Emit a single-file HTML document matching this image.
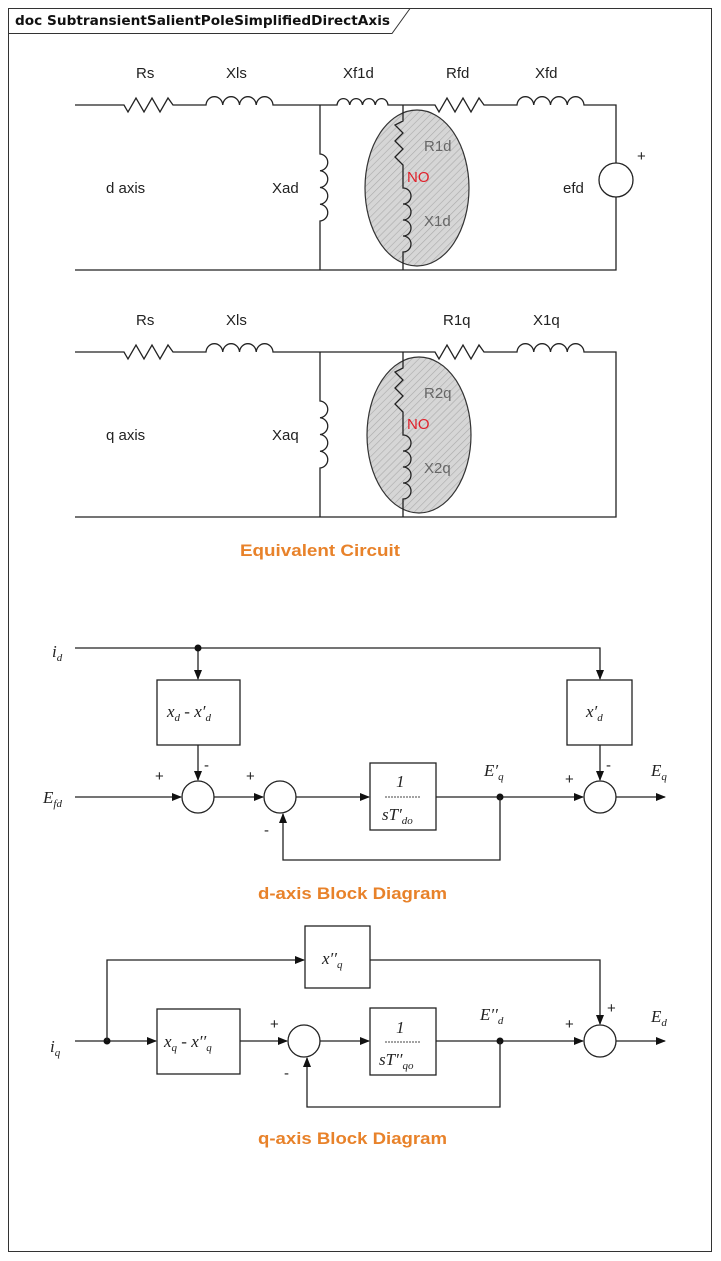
<!DOCTYPE html>
<html><head><meta charset="utf-8"><style>
html,body{margin:0;padding:0;background:#fff;}
svg{display:block;}
.w{fill:none;stroke:#222;stroke-width:1.3}
.l{font-family:"Liberation Sans",Arial,sans-serif;font-size:15px;fill:#222}
.g{font-family:"Liberation Sans",Arial,sans-serif;font-size:15px;fill:#666}
.m{font-family:"Liberation Serif",serif;font-style:italic;font-size:17px;fill:#222}
.s{font-size:11px}
.o{font-family:"Liberation Sans",Arial,sans-serif;font-weight:bold;font-size:17px;fill:#E8822A}
.b{fill:#fff;stroke:#222;stroke-width:1.3}
</style></head><body>
<svg width="721" height="1261" viewBox="0 0 721 1261" xmlns="http://www.w3.org/2000/svg">
<defs>
<pattern id="h" width="5" height="5" patternUnits="userSpaceOnUse" patternTransform="rotate(45)">
<rect width="5" height="5" fill="#d6d6d6"/><line x1="0" y1="0" x2="0" y2="5" stroke="#aaa" stroke-width="1.2"/></pattern>
<marker id="a" markerWidth="10" markerHeight="8" refX="9" refY="4" orient="auto" markerUnits="userSpaceOnUse"><path d="M0,0 L10,4 L0,8 z" fill="#111"/></marker>
</defs>
<rect x="8.5" y="8.5" width="703" height="1243" fill="none" stroke="#333" stroke-width="1"/>
<path d="M8.5 33.5 H392 L410 8.5" fill="none" stroke="#333" stroke-width="1"/>
<text x="15" y="25" font-family="DejaVu Sans,Liberation Sans,sans-serif" font-weight="bold" font-size="13" fill="#111" textLength="375" lengthAdjust="spacingAndGlyphs">doc SubtransientSalientPoleSimplifiedDirectAxis</text>

<!-- d axis circuit -->
<g>
<ellipse cx="417" cy="188" rx="52" ry="78" fill="url(#h)" stroke="#333" stroke-width="1.2"/>
<path class="w" d="M75 105 H124 l4 7 l8 -14 l8 14 l8 -14 l8 14 l8 -14 l5 7 H206 a8.4 9 0 0 1 16.75 0 a8.4 9 0 0 1 16.75 0 a8.4 9 0 0 1 16.75 0 a8.4 9 0 0 1 16.75 0 H337 a6.4 7 0 0 1 12.75 0 a6.4 7 0 0 1 12.75 0 a6.4 7 0 0 1 12.75 0 a6.4 7 0 0 1 12.75 0 H435 l4 7 l8 -14 l8 14 l8 -14 l8 14 l8 -14 l5 7 H517 a8.4 9 0 0 1 16.75 0 a8.4 9 0 0 1 16.75 0 a8.4 9 0 0 1 16.75 0 a8.4 9 0 0 1 16.75 0 H616 V163 M616 197 V270 H75"/>
<path class="w" d="M320 105 V154 a8.4 8.4 0 0 1 0 16.75 a8.4 8.4 0 0 1 0 16.75 a8.4 8.4 0 0 1 0 16.75 a8.4 8.4 0 0 1 0 16.75 V270"/>
<path class="w" d="M403 105 V121 l-8 4 l8 8 l-8 8 l8 8 l-8 8 l8 8 l0 6 V188 a8 8 0 0 1 0 16 a8 8 0 0 1 0 16 a8 8 0 0 1 0 16 a8 8 0 0 1 0 16 V270"/>
<circle cx="616" cy="180" r="17" fill="#fff" stroke="#222" stroke-width="1.3"/>
<text class="l" x="637" y="161">+</text>
<text class="l" x="136" y="78">Rs</text><text class="l" x="226" y="78">Xls</text>
<text class="l" x="343" y="78">Xf1d</text><text class="l" x="446" y="78">Rfd</text><text class="l" x="535" y="78">Xfd</text>
<text class="l" x="106" y="193">d axis</text><text class="l" x="272" y="193">Xad</text><text class="l" x="563" y="193">efd</text>
<text class="g" x="424" y="151">R1d</text><text class="g" x="424" y="226">X1d</text>
<text class="l" x="407" y="182" style="fill:#e0202a">NO</text>
</g>

<!-- q axis circuit -->
<g transform="translate(0,247)">
<ellipse cx="419" cy="188" rx="52" ry="78" fill="url(#h)" stroke="#333" stroke-width="1.2"/>
<path class="w" d="M75 105 H124 l4 7 l8 -14 l8 14 l8 -14 l8 14 l8 -14 l5 7 H206 a8.4 9 0 0 1 16.75 0 a8.4 9 0 0 1 16.75 0 a8.4 9 0 0 1 16.75 0 a8.4 9 0 0 1 16.75 0 H435 l4 7 l8 -14 l8 14 l8 -14 l8 14 l8 -14 l5 7 H517 a8.4 9 0 0 1 16.75 0 a8.4 9 0 0 1 16.75 0 a8.4 9 0 0 1 16.75 0 a8.4 9 0 0 1 16.75 0 H616 V270 H75"/>
<path class="w" d="M320 105 V154 a8.4 8.4 0 0 1 0 16.75 a8.4 8.4 0 0 1 0 16.75 a8.4 8.4 0 0 1 0 16.75 a8.4 8.4 0 0 1 0 16.75 V270"/>
<path class="w" d="M403 105 V121 l-8 4 l8 8 l-8 8 l8 8 l-8 8 l8 8 l0 6 V188 a8 8 0 0 1 0 16 a8 8 0 0 1 0 16 a8 8 0 0 1 0 16 a8 8 0 0 1 0 16 V270"/>
<text class="l" x="136" y="78">Rs</text><text class="l" x="226" y="78">Xls</text>
<text class="l" x="443" y="78">R1q</text><text class="l" x="533" y="78">X1q</text>
<text class="l" x="106" y="193">q axis</text><text class="l" x="272" y="193">Xaq</text>
<text class="g" x="424" y="151">R2q</text><text class="g" x="424" y="226">X2q</text>
<text class="l" x="407" y="182" style="fill:#e0202a">NO</text>
</g>
<text class="o" x="240" y="556" textLength="160" lengthAdjust="spacingAndGlyphs">Equivalent Circuit</text>

<!-- d-axis block diagram -->
<g>
<text class="m" x="52" y="657">i<tspan class="s" dy="4">d</tspan></text>
<path class="w" d="M75 648 H600 V679" marker-end="url(#a)"/>
<path class="w" d="M198 648 V679" marker-end="url(#a)"/>
<circle cx="198" cy="648" r="3.5" fill="#111"/>
<rect class="b" x="157" y="680" width="83" height="65"/>
<text class="m" x="167" y="717">x<tspan class="s" dy="4">d</tspan><tspan dy="-4"> - x′</tspan><tspan class="s" dy="4">d</tspan></text>
<path class="w" d="M198 745 V780" marker-end="url(#a)"/>
<rect class="b" x="567" y="680" width="65" height="65"/>
<text class="m" x="586" y="717">x′<tspan class="s" dy="4">d</tspan></text>
<path class="w" d="M600 745 V780" marker-end="url(#a)"/>
<text class="m" x="43" y="803">E<tspan class="s" dy="4">fd</tspan></text>
<path class="w" d="M75 797 H181" marker-end="url(#a)"/>
<circle class="b" cx="198" cy="797" r="16"/>
<path class="w" d="M214 797 H263" marker-end="url(#a)"/>
<circle class="b" cx="280" cy="797" r="16"/>
<path class="w" d="M296 797 H369" marker-end="url(#a)"/>
<rect class="b" x="370" y="763" width="66" height="67"/>
<text class="m" x="396" y="787">1</text>
<line x1="385" y1="797" x2="421" y2="797" stroke="#444" stroke-width="1" stroke-dasharray="2,1"/>
<text class="m" x="382" y="820">sT′<tspan class="s" dy="4">do</tspan></text>
<path class="w" d="M436 797 H583" marker-end="url(#a)"/>
<circle cx="500" cy="797" r="3.5" fill="#111"/>
<path class="w" d="M500 797 V860 H283 V814" marker-end="url(#a)"/>
<circle class="b" cx="600" cy="797" r="16"/>
<path class="w" d="M616 797 H665" marker-end="url(#a)"/>
<text class="m" x="484" y="776">E′<tspan class="s" dy="4">q</tspan></text>
<text class="m" x="651" y="776">E<tspan class="s" dy="4">q</tspan></text>
<text class="l" x="155" y="781">+</text><text class="l" x="204" y="770">-</text>
<text class="l" x="246" y="781">+</text><text class="l" x="264" y="835">-</text>
<text class="l" x="565" y="784">+</text><text class="l" x="606" y="770">-</text>
</g>
<text class="o" x="258" y="899" textLength="189" lengthAdjust="spacingAndGlyphs">d-axis Block Diagram</text>

<!-- q-axis block diagram -->
<g>
<text class="m" x="50" y="1052">i<tspan class="s" dy="4">q</tspan></text>
<path class="w" d="M75 1041 H156" marker-end="url(#a)"/>
<circle cx="107" cy="1041" r="3.5" fill="#111"/>
<path class="w" d="M107 1041 V960 H304" marker-end="url(#a)"/>
<rect class="b" x="305" y="926" width="65" height="62"/>
<text class="m" x="322" y="964">x′′<tspan class="s" dy="4">q</tspan></text>
<path class="w" d="M370 960 H600 V1024" marker-end="url(#a)"/>
<rect class="b" x="157" y="1009" width="83" height="65"/>
<text class="m" x="164" y="1047">x<tspan class="s" dy="4">q</tspan><tspan dy="-4"> - x′′</tspan><tspan class="s" dy="4">q</tspan></text>
<path class="w" d="M240 1041 H287" marker-end="url(#a)"/>
<circle class="b" cx="304" cy="1041" r="16"/>
<path class="w" d="M320 1041 H369" marker-end="url(#a)"/>
<rect class="b" x="370" y="1008" width="66" height="67"/>
<text class="m" x="396" y="1033">1</text>
<line x1="385" y1="1042" x2="421" y2="1042" stroke="#444" stroke-width="1" stroke-dasharray="2,1"/>
<text class="m" x="379" y="1065">sT′′<tspan class="s" dy="4">qo</tspan></text>
<path class="w" d="M436 1041 H583" marker-end="url(#a)"/>
<circle cx="500" cy="1041" r="3.5" fill="#111"/>
<path class="w" d="M500 1041 V1107 H307 V1058" marker-end="url(#a)"/>
<circle class="b" cx="600" cy="1041" r="16"/>
<path class="w" d="M616 1041 H665" marker-end="url(#a)"/>
<text class="m" x="480" y="1020">E′′<tspan class="s" dy="4">d</tspan></text>
<text class="m" x="651" y="1022">E<tspan class="s" dy="4">d</tspan></text>
<text class="l" x="270" y="1029">+</text><text class="l" x="284" y="1078">-</text>
<text class="l" x="565" y="1029">+</text><text class="l" x="607" y="1013">+</text>
</g>
<text class="o" x="258" y="1144" textLength="189" lengthAdjust="spacingAndGlyphs">q-axis Block Diagram</text>
</svg>
</body></html>
